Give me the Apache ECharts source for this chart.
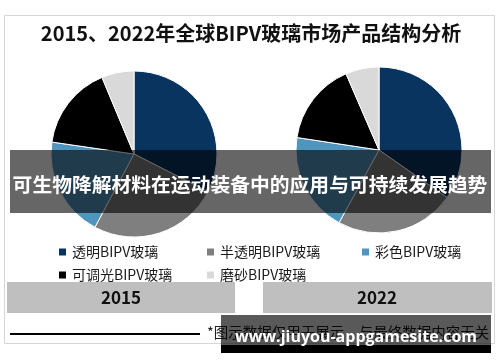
<!DOCTYPE html>
<html><head><meta charset="utf-8">
<script src="https://cdn.jsdelivr.net/npm/echarts@6/dist/echarts.min.js"></script>
<style>html,body{margin:0;padding:0;background:#fff}#c{width:500px;height:362px}</style>
</head><body><div id="c"></div>
<script>
const categories = ['透明BIPV玻璃','半透明BIPV玻璃','彩色BIPV玻璃','可调光BIPV玻璃','磨砂BIPV玻璃'];
const values2015 = [32.5, 25.3, 19.5, 16.4, 6.3];
const values2022 = [34.7, 23.3, 19.4, 16.1, 6.5];
const years = ['2015','2022'];
const colors = ['#08345f','#7f7f7f','#4f95bd','#000000','#d9d9d9'];
const title = '2015、2022年全球BIPV玻璃市场产品结构分析';
const banner = '可生物降解材料在运动装备中的应用与可持续发展趋势';
const note = '*图示数据仅用于展示，与最终数据内容无关';
const watermark = 'www.jiuyou-appgamesite.com';

const CJK = '"Noto Sans CJK SC", "Noto Sans", sans-serif';
const chart = echarts.init(document.getElementById('c'));
function mk(vals){return categories.map((n,i)=>({name:n,value:vals[i]}));}
const pieBase = {type:'pie', radius:83, startAngle:90, clockwise:true, label:{show:false}, labelLine:{show:false},
  itemStyle:{borderColor:'#fff', borderWidth:1}, emphasis:{disabled:true}, animation:false, z:2};
const legendBase = {orient:'vertical', icon:'rect', itemWidth:9, itemHeight:9, itemGap:7,
  textStyle:{fontFamily:CJK, fontSize:14, color:'#1a1a1a', lineHeight:16}, selectedMode:false, top:239};
chart.setOption({
  animation:false,
  color: colors,
  legend:[
    Object.assign({}, legendBase, {left:52, data:[categories[0], categories[3]]}),
    Object.assign({}, legendBase, {left:200, data:[categories[1], categories[4]]}),
    Object.assign({}, legendBase, {left:355, data:[categories[2]]})
  ],
  series:[
    Object.assign({}, pieBase, {name:years[0], center:[134,154], data:mk(values2015)}),
    Object.assign({}, pieBase, {name:years[1], center:[379,150], data:mk(values2022)})
  ],
  graphic:[
    {type:'rect', z:-1, shape:{x:4.5,y:15.5,width:490,height:328}, style:{fill:'#fff', stroke:'#d6d6d6', lineWidth:1}},
    {type:'text', z:5, x:251, y:33, style:{text:title, fontFamily:CJK, fontWeight:'bold', fontSize:20, fill:'#111', align:'center', verticalAlign:'middle'}},
    {type:'rect', z:5, shape:{x:7,y:282,width:228,height:31}, style:{fill:'#bfbfbf'}},
    {type:'rect', z:5, shape:{x:263,y:282,width:229,height:31}, style:{fill:'#bfbfbf'}},
    {type:'text', z:6, x:121, y:298, style:{text:years[0], fontFamily:CJK, fontWeight:'bold', fontSize:17, fill:'#111', align:'center', verticalAlign:'middle'}},
    {type:'text', z:6, x:377, y:298, style:{text:years[1], fontFamily:CJK, fontWeight:'bold', fontSize:17, fill:'#111', align:'center', verticalAlign:'middle'}},
    {type:'line', z:5, shape:{x1:10,y1:334,x2:200,y2:334}, style:{stroke:'#000', lineWidth:2}},
    {type:'text', z:5, x:207, y:332, style:{text:note, fontFamily:CJK, fontSize:14.5, fill:'#222', align:'left', verticalAlign:'middle'}},
    {type:'rect', z:50, shape:{x:10,y:150,width:481,height:63}, style:{fill:'rgba(0,0,0,0.6)'}},
    {type:'text', z:51, x:250, y:184, style:{text:banner, fontFamily:CJK, fontWeight:'bold', fontSize:19.8, fill:'#fff', align:'center', verticalAlign:'middle'}},
    {type:'rect', z:50, shape:{x:221,y:315,width:270,height:30}, style:{fill:'rgba(0,0,0,0.65)'}},
    {type:'rect', z:50, shape:{x:221,y:345,width:270,height:8}, style:{fill:'#000'}},
    {type:'text', z:51, x:356, y:337, style:{text:watermark, fontFamily:'"Open Sans", sans-serif', fontWeight:'bold', fontSize:16, fill:'#fff', align:'center', verticalAlign:'middle'}}
  ]
});
</script></body></html>
